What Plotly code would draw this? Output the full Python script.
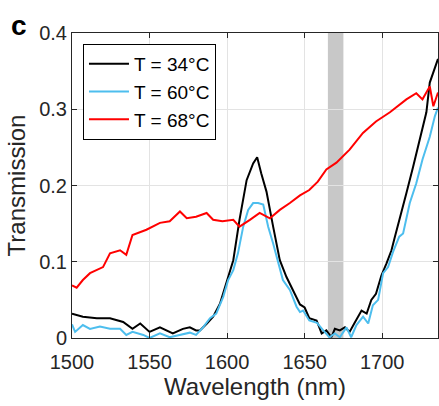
import plotly.graph_objects as go

# ---- data ----
red_x = [1500, 1503, 1507, 1511.6, 1520, 1524.5, 1531, 1535, 1539, 1548, 1556.7, 1563,
         1569.6, 1574, 1580, 1586.8, 1591, 1597, 1604, 1608, 1614.7, 1621, 1627.6, 1634,
         1640.5, 1647, 1653, 1658.5, 1664, 1670.5, 1679, 1687.6, 1696, 1705, 1715.6, 1722,
         1726, 1730.7, 1733, 1736]
red_y = [0.069, 0.066, 0.076, 0.085, 0.093, 0.111, 0.115, 0.109, 0.135, 0.142, 0.151, 0.153,
         0.166, 0.157, 0.159, 0.164, 0.155, 0.153, 0.155, 0.146, 0.155, 0.164, 0.157, 0.168,
         0.177, 0.187, 0.194, 0.205, 0.221, 0.230, 0.247, 0.269, 0.284, 0.296, 0.313, 0.321,
         0.313, 0.330, 0.304, 0.322]

black_x = [1500, 1507, 1516, 1524.5, 1533, 1539, 1544, 1550, 1556.7, 1565, 1571.5, 1576,
           1580, 1582.5, 1587, 1591, 1595.4, 1599.7, 1604, 1608, 1612.6, 1616.8, 1619.4, 1622,
           1625.4, 1629.7, 1634, 1638.3, 1642.6, 1647, 1650, 1653, 1657.7, 1661, 1664, 1667.3,
           1669.5, 1672.7, 1676, 1679, 1682, 1686.7, 1690, 1693, 1696, 1699.5, 1702.8, 1706,
           1708, 1711, 1715.6, 1720, 1724, 1728.5, 1730.7, 1732.8, 1736]
black_y = [0.032, 0.028, 0.026, 0.026, 0.021, 0.012, 0.019, 0.008, 0.014, 0.006, 0.012, 0.014,
           0.010, 0.010, 0.019, 0.028, 0.045, 0.072, 0.102, 0.155, 0.207, 0.229, 0.237, 0.216,
           0.192, 0.146, 0.102, 0.080, 0.063, 0.044, 0.040, 0.026, 0.023, 0.006, 0.010, 0.001,
           0.012, 0.010, 0.014, 0.008, 0.019, 0.036, 0.032, 0.050, 0.058, 0.082, 0.098, 0.115,
           0.131, 0.153, 0.190, 0.225, 0.260, 0.296, 0.335, 0.348, 0.366]

blue_x = [1500, 1502, 1507, 1511.6, 1518, 1524.5, 1531, 1535, 1539, 1546, 1550, 1556.7,
          1563, 1569.6, 1576, 1580, 1584.5, 1589, 1593, 1597.5, 1600.7, 1604, 1607, 1610.4,
          1613.6, 1616.8, 1620, 1623.3, 1626.5, 1629.7, 1633, 1636, 1640.5, 1644.8, 1647, 1649,
          1653, 1658, 1662, 1666, 1669.5, 1672.7, 1677, 1680, 1683.4, 1687.7, 1691, 1694,
          1697.4, 1700.6, 1703.8, 1707, 1711, 1713.5, 1717.8, 1722, 1726, 1730.7, 1734, 1736]
blue_y = [0.018, 0.008, 0.017, 0.012, 0.015, 0.012, 0.012, 0.004, 0.008, 0.004, 0.000, 0.006,
          0.001, 0.004, 0.007, 0.004, 0.014, 0.026, 0.032, 0.054, 0.076, 0.089, 0.111, 0.146,
          0.168, 0.177, 0.177, 0.175, 0.146, 0.124, 0.100, 0.076, 0.063, 0.041, 0.034, 0.036,
          0.023, 0.020, 0.010, 0.001, 0.006, 0.001, 0.014, 0.001, 0.017, 0.028, 0.019, 0.043,
          0.050, 0.085, 0.093, 0.113, 0.133, 0.137, 0.177, 0.203, 0.234, 0.264, 0.291, 0.302]

labels = ["T = 34°C", "T = 60°C", "T = 68°C"]
band = [1665, 1675]
x_ticks = [1500, 1550, 1600, 1650, 1700]
y_ticks = [0, 0.1, 0.2, 0.3, 0.4]
y_ticklabels = ["0", "0.1", "0.2", "0.3", "0.4"]

FONT = "Liberation Sans, Arial, sans-serif"
AX = "#262626"

fig = go.Figure()
for xs, ys, name, col in [(black_x, black_y, labels[0], "#000000"),
                          (blue_x, blue_y, labels[1], "#4DBEEE"),
                          (red_x, red_y, labels[2], "#FF0000")]:
    fig.add_trace(go.Scatter(x=xs, y=ys, mode="lines", name=name,
                             line=dict(color=col, width=2)))

fig.add_shape(type="rect", xref="x", yref="paper", x0=band[0], x1=band[1], y0=0, y1=1,
              fillcolor="#c8c8c8", line=dict(width=0), layer="below")

axis_common = dict(showline=True, linecolor=AX, linewidth=1, mirror="ticks",
                   ticks="inside", ticklen=5, tickcolor=AX,
                   showgrid=True, gridcolor="#e3e3e3", gridwidth=1, zeroline=False,
                   tickfont=dict(family=FONT, size=20, color=AX))

fig.update_xaxes(range=[1500, 1736], tickvals=x_ticks, ticklabelstandoff=6,
                 title=dict(text="Wavelength (nm)", font=dict(family=FONT, size=24, color=AX),
                            standoff=2),
                 **axis_common)
fig.update_yaxes(range=[0, 0.4], tickvals=y_ticks, ticktext=y_ticklabels,
                 title=dict(text="Transmission", font=dict(family=FONT, size=24, color=AX),
                            standoff=6),
                 **axis_common)

fig.add_annotation(text="<b>c</b>", xref="paper", yref="paper", x=-0.145, y=1.025,
                   xanchor="center", yanchor="middle", showarrow=False,
                   font=dict(family=FONT, size=28, color="#000000"))

fig.update_layout(
    width=439, height=406,
    margin=dict(l=72, r=1, t=33, b=68),
    paper_bgcolor="white", plot_bgcolor="white",
    font=dict(family=FONT, color=AX),
    showlegend=True,
    legend=dict(x=0.03, y=0.964, xanchor="left", yanchor="top",
                bgcolor="white", bordercolor="#000000", borderwidth=1,
                font=dict(family=FONT, size=19, color="#000000"),
                tracegroupgap=0, itemwidth=40),
)

fig.write_html("out.html", config={"displayModeBar": False},
               post_script="document.body.style.margin='0';document.body.style.overflow='hidden';")
